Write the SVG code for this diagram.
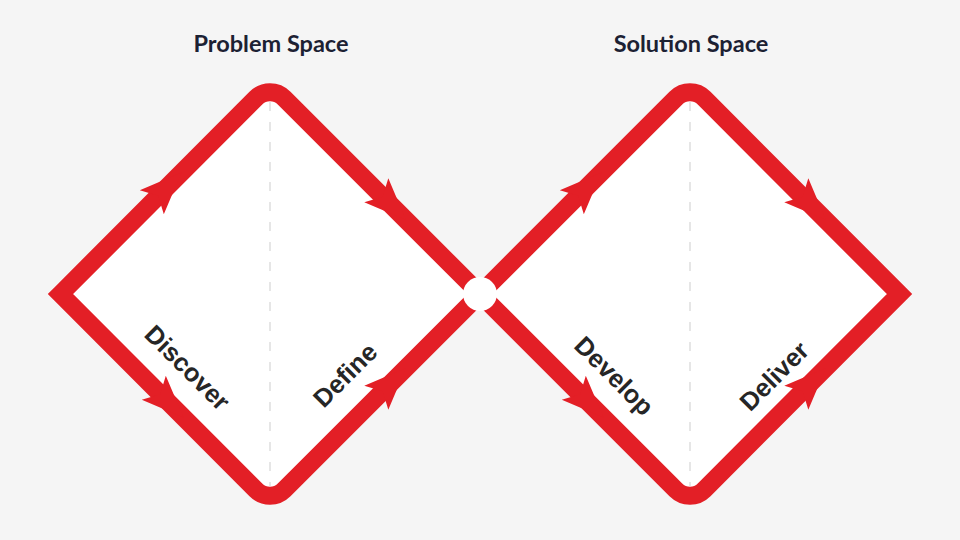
<svg xmlns="http://www.w3.org/2000/svg" xmlns:xlink="http://www.w3.org/1999/xlink" width="960" height="540" viewBox="0 0 960 540">
  <style>
    .dia { fill: #ffffff; stroke: #e31f26; stroke-width: 18; stroke-linejoin: miter; stroke-miterlimit: 4; }
    .guide { stroke: #e6e6e6; stroke-width: 2; stroke-dasharray: 9 11; fill: none; }
    .title { font-family: Lato, "Open Sans", sans-serif; font-weight: 700; font-size: 23.5px; fill: #1c2133; text-anchor: middle; }
    .lbl { font-family: "Liberation Sans", Arial, Helvetica, sans-serif; font-weight: 700; font-size: 25.5px; fill: #262626; text-anchor: middle; }
    .arr { fill: #e31f26; }
  </style>
  <defs>
    <path id="arrow" class="arr" d="M 41 0 L -1 -17 L 8 0 L -1 17 Z"/>
  </defs>
  <rect x="0" y="0" width="960" height="540" fill="#f5f5f5"/>

  <g id="problem-space">
    <text class="title" x="271" y="52">Problem Space</text>
    <path class="dia" d="M 60.5 294 L 255.86 98.14 A 20 20 0 0 1 284.14 98.14 L 480 294 L 284.14 489.86 A 20 20 0 0 1 255.86 489.86 Z"/>
    <line class="guide" x1="270" y1="102" x2="270" y2="486"/>
  </g>

  <g id="solution-space">
    <text class="title" x="691" y="52">Solution Space</text>
    <path class="dia" d="M 480 294 L 675.86 98.14 A 20 20 0 0 1 704.14 98.14 L 899.5 294 L 704.14 489.86 A 20 20 0 0 1 675.86 489.86 Z"/>
    <line class="guide" x1="690" y1="102" x2="690" y2="486"/>
  </g>

  <g id="connectors">
    <use xlink:href="#arrow" transform="translate(152.5,201.5) rotate(-45)"/>
    <use xlink:href="#arrow" transform="translate(377,191) rotate(45)"/>
    <use xlink:href="#arrow" transform="translate(154.5,388.5) rotate(45)"/>
    <use xlink:href="#arrow" transform="translate(377,397) rotate(-45)"/>
    <use xlink:href="#arrow" transform="translate(572.5,201.5) rotate(-45)"/>
    <use xlink:href="#arrow" transform="translate(797,191) rotate(45)"/>
    <use xlink:href="#arrow" transform="translate(574.5,388.5) rotate(45)"/>
    <use xlink:href="#arrow" transform="translate(797,397) rotate(-45)"/>
    <circle cx="480" cy="294" r="17" fill="#ffffff"/>
  </g>

  <g id="discover">
    <text class="lbl" transform="translate(187.5,367.5) rotate(45)" y="9">Discover</text>
  </g>
  <g id="define">
    <text class="lbl" transform="translate(345,375) rotate(-45)" y="9">Define</text>
  </g>
  <g id="develop">
    <text class="lbl" transform="translate(612.5,377.5) rotate(45)" y="6.5">Develop</text>
  </g>
  <g id="deliver">
    <text class="lbl" transform="translate(774,376) rotate(-45)" y="9">Deliver</text>
  </g>
</svg>
